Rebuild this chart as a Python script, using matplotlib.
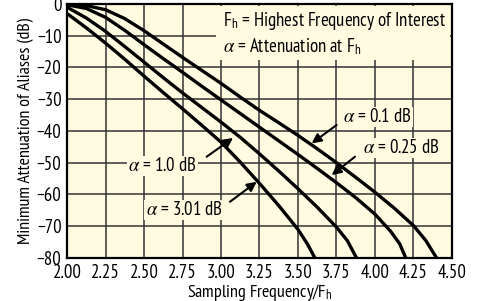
import matplotlib
matplotlib.use("Agg")
import matplotlib.pyplot as plt
from matplotlib.patches import Rectangle

# curve data (sampling freq / Fh, attenuation dB)
x_a01 = [2.0, 2.125, 2.25, 2.375, 2.5, 2.625, 2.75, 2.875, 3.0, 3.125, 3.25,
         3.375, 3.5, 3.625, 3.75, 3.875, 4.0, 4.125, 4.25, 4.33, 4.40]
y_a01 = [-0.1, -0.5, -1.8, -4.6, -8.4, -12.6, -16.8, -20.9, -25.0, -29.3, -33.5,
         -37.4, -41.4, -45.6, -50.0, -54.6, -59.3, -64.3, -69.8, -74.5, -80.0]

x_a025 = [2.0, 2.125, 2.25, 2.375, 2.5, 2.625, 2.75, 2.875, 3.0, 3.125, 3.25,
          3.375, 3.5, 3.625, 3.75, 3.875, 4.0, 4.1, 4.16, 4.20]
y_a025 = [-0.25, -1.4, -4.2, -8.3, -12.8, -17.2, -21.5, -25.9, -30.2, -34.5, -38.8,
          -43.1, -47.4, -51.8, -56.3, -61.0, -66.2, -71.5, -75.5, -80.0]

x_a1 = [2.0, 2.125, 2.25, 2.375, 2.5, 2.625, 2.75, 2.875, 3.0, 3.125, 3.25,
        3.375, 3.5, 3.625, 3.75, 3.82, 3.88]
y_a1 = [-1.0, -4.4, -8.6, -13.4, -18.3, -23.2, -28.0, -32.6, -37.2, -42.0, -47.2,
        -52.6, -58.2, -64.0, -70.3, -74.5, -80.0]

x_a301 = [2.0, 2.125, 2.25, 2.375, 2.5, 2.625, 2.75, 2.875, 3.0, 3.125, 3.25,
          3.375, 3.5, 3.56, 3.61]
y_a301 = [-3.0, -7.5, -12.3, -17.4, -22.7, -27.9, -33.0, -38.2, -43.5, -49.8, -56.5,
          -63.5, -71.0, -75.5, -80.0]

x_ticks = [2.00, 2.25, 2.50, 2.75, 3.00, 3.25, 3.50, 3.75, 4.00, 4.25, 4.50]
y_ticks = [0, -10, -20, -30, -40, -50, -60, -70, -80]

bg = "#FEFBE1"

plt.rcParams["font.family"] = ["PT Sans Narrow", "DejaVu Sans"]
plt.rcParams["mathtext.fontset"] = "stix"

fig = plt.figure(figsize=(4.79, 3.01), dpi=100)
ax = fig.add_axes([0.1399, 0.1429, 0.8037, 0.8438])
ax.set_facecolor(bg)

for xs, ys in [(x_a01, y_a01), (x_a025, y_a025), (x_a1, y_a1), (x_a301, y_a301)]:
    ax.plot(xs, ys, color="black", lw=2.4, zorder=3, solid_capstyle="butt")

ax.set_xlim(2.0, 4.5)
ax.set_ylim(-80, 0)
ax.set_xticks(x_ticks)
ax.set_xticklabels([f"{v:.2f}" for v in x_ticks])
ax.set_yticks(y_ticks)
ax.set_yticklabels([("\u2212" + str(-v)) if v < 0 else "0" for v in y_ticks])
ax.tick_params(axis="x", length=0, pad=4, labelsize=13.5)
ax.tick_params(axis="y", length=0, pad=4, labelsize=13.5)
ax.grid(True, color="#333333", lw=1.1)
ax.set_axisbelow(True)
for s in ax.spines.values():
    s.set_linewidth(1.6)

ax.set_xlabel("Sampling Frequency/F$_\\mathregular{h}$", fontsize=13, labelpad=0)
ax.set_ylabel("Minimum Attenuation of Aliases (dB)", fontsize=13, labelpad=2)

# key box in the upper right
ax.add_patch(Rectangle((2.97, -17.6), 1.515, 17.0, fc=bg, ec="none", zorder=1))
ax.text(3.013, -5.4, "F$_\\mathregular{h}$ = Highest Frequency of Interest",
        fontsize=13.5, va="center", ha="left", zorder=4)
ax.text(3.013, -13.5, "$\\alpha$ = Attenuation at F$_\\mathregular{h}$",
        fontsize=13.5, va="center", ha="left", zorder=4)

box = dict(fc=bg, ec="none", pad=1.0)
arrow = dict(arrowstyle="-|>", color="black", lw=1.5, mutation_scale=14, shrinkA=0, shrinkB=0)

ax.text(4.013, -35.6, "$\\alpha$ = 0.1 dB", fontsize=13.5, ha="center", va="center", bbox=box, zorder=4)
ax.annotate("", xy=(3.589, -43.9), xytext=(3.751, -38.1), arrowprops=arrow, zorder=5)

ax.text(4.173, -45.4, "$\\alpha$ = 0.25 dB", fontsize=13.5, ha="center", va="center", bbox=box, zorder=4)
ax.annotate("", xy=(3.719, -53.9), xytext=(3.870, -48.1), arrowprops=arrow, zorder=5)

ax.text(2.620, -51.0, "$\\alpha$ = 1.0 dB", fontsize=13.5, ha="center", va="center", bbox=box, zorder=4)
ax.annotate("", xy=(3.078, -42.2), xytext=(2.907, -48.1), arrowprops=arrow, zorder=5)

ax.text(2.760, -64.9, "$\\alpha$ = 3.01 dB", fontsize=13.5, ha="center", va="center", bbox=box, zorder=4)
ax.annotate("", xy=(3.232, -56.0), xytext=(3.058, -62.3), arrowprops=arrow, zorder=5)

fig.savefig("out.png", dpi=100, facecolor="white")
